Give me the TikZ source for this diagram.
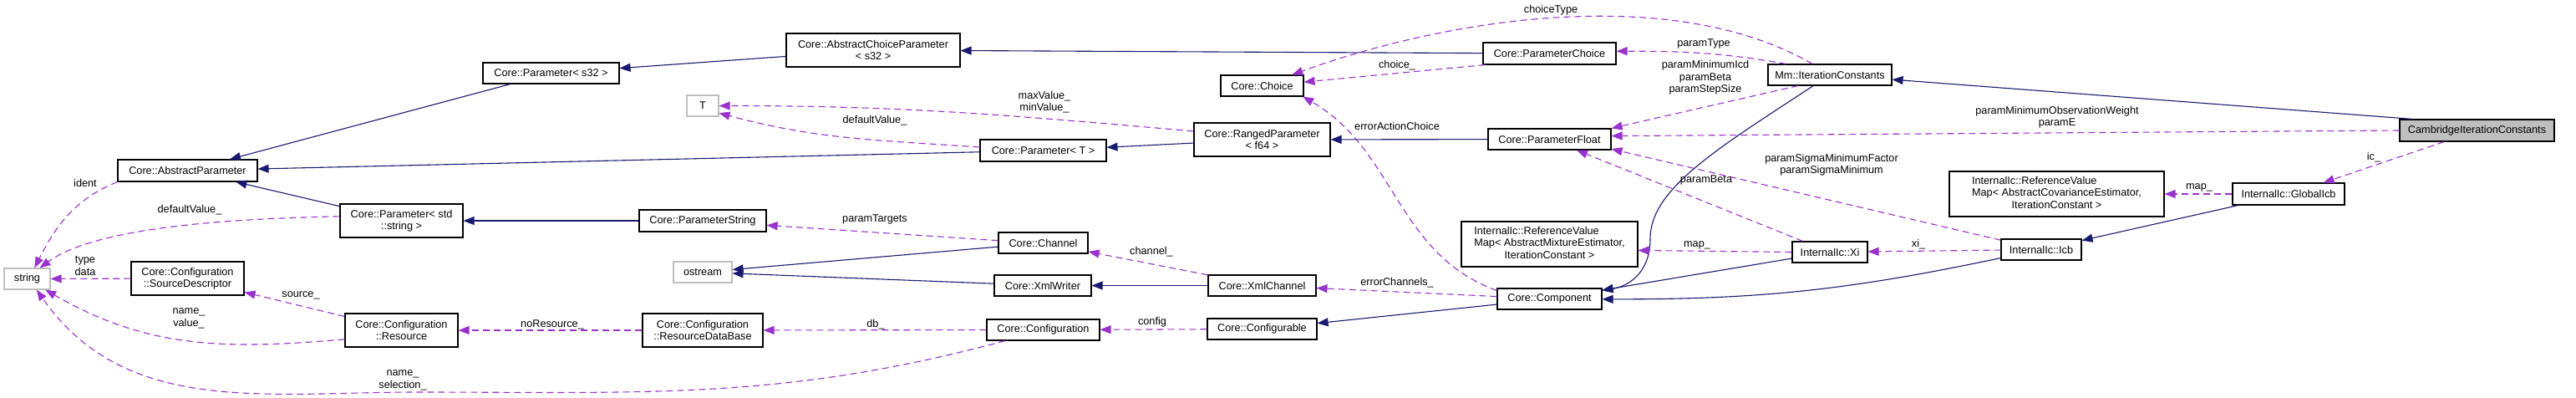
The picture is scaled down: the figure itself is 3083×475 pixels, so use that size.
\documentclass[tikz,border=0pt]{standalone}
\usepackage{fontspec}
\setmainfont{Liberation Sans}
\usetikzlibrary{arrows.meta}
\definecolor{dgnavy}{HTML}{191970}
\definecolor{dgpurple}{HTML}{9A32CD}
\definecolor{dggrey}{HTML}{BFBFBF}
\tikzset{
  dg text/.style={font=\fontsize{12.7}{14.5}\selectfont, text=black},
  dg class/.style={draw=black, line width=1.1pt, fill=white, inner sep=0pt, align=center, dg text},
  dg extern/.style={dg class, draw=dggrey},
  dg focus/.style={dg class, fill=dggrey},
  dg inherit/.style={-{Triangle[length=13pt,width=10pt]}, line width=1.1pt, draw=dgnavy},
  dg usage/.style={-{Triangle[length=13pt,width=10pt]}, line width=1.1pt, draw=dgpurple,
    dash pattern=on 8pt off 5pt},
  dg label/.style={dg text, align=center, inner sep=0pt}
}

\begin{document}
\begin{tikzpicture}[x=1pt, y=-1pt]
  \fill[white] (0,0) rectangle (3083,475);
  \useasboundingbox (0,0) rectangle (3083,475);
  \node[dg class, minimum width=167pt, minimum height=26pt] (absparam) at (224.5,204) {Core::AbstractParameter};
  \node[dg extern, minimum width=55pt, minimum height=25pt] (string) at (32.5,333.5) {string};
  \node[dg class, minimum width=135pt, minimum height=40pt] (srcdesc) at (224.5,333) {Core::Configuration\\::SourceDescriptor};
  \node[dg class, minimum width=147pt, minimum height=40pt] (paramstd) at (480.5,264) {Core::Parameter< std\\::string >};
  \node[dg class, minimum width=135pt, minimum height=40pt] (resource) at (480.5,395) {Core::Configuration\\::Resource};
  \node[dg class, minimum width=163pt, minimum height=25pt] (params32) at (659.5,87.5) {Core::Parameter< s32 >};
  \node[dg class, minimum width=208pt, minimum height=40pt] (abschoice) at (1045,60) {Core::AbstractChoiceParameter\\< s32 >};
  \node[dg extern, minimum width=38pt, minimum height=25pt] (tparam) at (841,126.5) {T};
  \node[dg class, minimum width=152pt, minimum height=26pt] (paramstring) at (841,264) {Core::ParameterString};
  \node[dg extern, minimum width=70pt, minimum height=25pt] (ostream) at (841,325.5) {ostream};
  \node[dg class, minimum width=144pt, minimum height=40pt] (resdb) at (841,395) {Core::Configuration\\::ResourceDataBase};
  \node[dg class, minimum width=99pt, minimum height=25pt] (choice) at (1510.5,102.5) {Core::Choice};
  \node[dg class, minimum width=163pt, minimum height=40pt] (ranged) at (1510.5,167) {Core::RangedParameter\\< f64 >};
  \node[dg class, minimum width=151pt, minimum height=26pt] (paramt) at (1248.5,180) {Core::Parameter< T >};
  \node[dg class, minimum width=107pt, minimum height=25pt] (channel) at (1248.5,290.5) {Core::Channel};
  \node[dg class, minimum width=116pt, minimum height=25pt] (xmlwriter) at (1248,341.5) {Core::XmlWriter};
  \node[dg class, minimum width=135pt, minimum height=25pt] (config) at (1248.5,394.5) {Core::Configuration};
  \node[dg class, minimum width=129pt, minimum height=25pt] (xmlchannel) at (1510.5,341.5) {Core::XmlChannel};
  \node[dg class, minimum width=131pt, minimum height=25pt] (configurable) at (1510.5,393.5) {Core::Configurable};
  \node[dg class, minimum width=159pt, minimum height=26pt] (paramchoice) at (1854.5,64) {Core::ParameterChoice};
  \node[dg class, minimum width=147pt, minimum height=25pt] (paramfloat) at (1854.5,166.5) {Core::ParameterFloat};
  \node[dg class, minimum width=211pt, minimum height=54pt] (refmix) at (1854.5,292) {\begin{tabular}{@{}l@{}}InternalIc::ReferenceValue\\Map< AbstractMixtureEstimator,\\\multicolumn{1}{@{}c@{}}{IterationConstant >}\end{tabular}};
  \node[dg class, minimum width=125pt, minimum height=25pt] (component) at (1854.5,357.5) {Core::Component};
  \node[dg class, minimum width=148pt, minimum height=25pt] (iterconst) at (2190,89.5) {Mm::IterationConstants};
  \node[dg class, minimum width=90pt, minimum height=25pt] (xi) at (2190,301.5) {InternalIc::Xi};
  \node[dg class, minimum width=96pt, minimum height=25pt] (icb) at (2443,298.5) {InternalIc::Icb};
  \node[dg class, minimum width=257pt, minimum height=54pt] (refcov) at (2461.5,232) {\begin{tabular}{@{}l@{}}InternalIc::ReferenceValue\\Map< AbstractCovarianceEstimator,\\\multicolumn{1}{@{}c@{}}{IterationConstant >}\end{tabular}};
  \node[dg focus, minimum width=185pt, minimum height=26pt] (cambridge) at (2964.5,156) {CambridgeIterationConstants};
  \node[dg class, minimum width=134pt, minimum height=26pt] (globalicb) at (2739,232) {InternalIc::GlobalIcb};

  \draw[dg inherit] (params32) -- (absparam);
  \draw[dg inherit] (paramt) -- (absparam);
  \draw[dg inherit] (paramstd) -- (absparam);
  \draw[dg inherit] (abschoice) -- (params32);
  \draw[dg inherit] (paramchoice) -- (abschoice);
  \draw[dg inherit] (ranged) -- (paramt);
  \draw[dg inherit] (paramfloat) -- (ranged);
  \draw[dg inherit] (paramstring) -- (paramstd);
  \draw[dg inherit] (channel) -- (ostream);
  \draw[dg inherit] (xmlwriter) -- (ostream);
  \draw[dg inherit] (xmlchannel) -- (xmlwriter);
  \draw[dg inherit] (component) -- (configurable);
  \draw[dg inherit] (iterconst) .. controls (2060,175) and (1975,225) .. (1975,285) .. controls (1975,330) and (1945,343) .. (component);
  \draw[dg inherit] (xi) -- (component);
  \draw[dg inherit] (icb) to[bend left=6] (component);
  \draw[dg inherit] (globalicb) -- (icb);
  \draw[dg inherit] (cambridge.170) -- (iterconst);

  \draw[dg usage] (absparam.south west) to[out=202,in=63] (string.56);
  \draw[dg usage] (paramstd.176) .. controls (250,262) and (110,275) .. (string.41);
  \draw[dg usage] (srcdesc) -- (string);
  \draw[dg usage] (resource.189) to[out=185,in=330] (string.-31);
  \draw[dg usage] (config.196) to[out=195,in=0] (500,469) to[out=180,in=305] (string.-49);
  \draw[dg usage] (resource) -- (srcdesc);
  \draw[dg usage] (resdb) -- (resource);
  \draw[dg usage] (config) -- (resdb);
  \draw[dg usage] (ranged.173) to[out=175,in=0] (tparam.east);
  \draw[dg usage] (paramt.177) to[out=176,in=345] (tparam.-24);
  \draw[dg usage] (channel.177) -- (paramstring.-4);
  \draw[dg usage] (xmlchannel) -- (channel);
  \draw[dg usage] (configurable) -- (config);
  \draw[dg usage] (component) -- (xmlchannel);
  \draw[dg usage] (component.171) to[out=160,in=330] (choice.-15);
  \draw[dg usage] (paramchoice.190) -- (choice.5);
  \draw[dg usage] (iterconst.148) to[out=150,in=20,looseness=0.8] (choice.20);
  \draw[dg usage] (iterconst.166) to[out=170,in=0] (paramchoice.2);
  \draw[dg usage] (iterconst.199) -- (paramfloat.10);
  \draw[dg usage] (cambridge.west) -- (paramfloat.3);
  \draw[dg usage] (xi) -- (paramfloat);
  \draw[dg usage] (icb) -- (paramfloat.-9);
  \draw[dg usage] (xi.west) -- (refmix.-4);
  \draw[dg usage] (icb) -- (xi);
  \draw[dg usage] (globalicb) -- (refcov);
  \draw[dg usage] (cambridge.199) -- (globalicb.18);

  \node[dg label] (l-ident) at (102,219) {ident};
  \node[dg label] (l-defstr) at (227,251) {defaultValue\_};
  \node[dg label] (l-type) at (102,318) {type\\data};
  \node[dg label] (l-source) at (360,353) {source\_};
  \node[dg label] (l-namevalue) at (226,381) {name\_\\value\_};
  \node[dg label] (l-namesel) at (482,455) {name\_\\selection\_};
  \node[dg label] (l-nores) at (661,388) {noResource\_};
  \node[dg label] (l-db) at (1048,388) {db\_};
  \node[dg label] (l-maxmin) at (1250,122) {maxValue\_\\minValue\_};
  \node[dg label] (l-deft) at (1047,144) {defaultValue\_};
  \node[dg label] (l-targets) at (1047,262) {paramTargets};
  \node[dg label] (l-channel) at (1378,301) {channel\_};
  \node[dg label] (l-config) at (1379,385) {config};
  \node[dg label] (l-errch) at (1672,338) {errorChannels\_};
  \node[dg label] (l-erract) at (1672,151) {errorActionChoice};
  \node[dg label] (l-choice) at (1672,78) {choice\_};
  \node[dg label] (l-choicetype) at (1856,12) {choiceType};
  \node[dg label] (l-paramtype) at (2039,52) {paramType};
  \node[dg label] (l-icd) at (2041,93) {paramMinimumIcd\\paramBeta\\paramStepSize};
  \node[dg label] (l-beta) at (2042,215) {paramBeta};
  \node[dg label] (l-sigma) at (2192,197) {paramSigmaMinimumFactor\\paramSigmaMinimum};
  \node[dg label] (l-obs) at (2462,140) {paramMinimumObservationWeight\\paramE};
  \node[dg label] (l-map) at (2031,293) {map\_};
  \node[dg label] (l-xi) at (2296,292) {xi\_};
  \node[dg label] (l-mapcov) at (2632,224) {map\_};
  \node[dg label] (l-ic) at (2841,188) {ic\_};
\end{tikzpicture}
\end{document}
